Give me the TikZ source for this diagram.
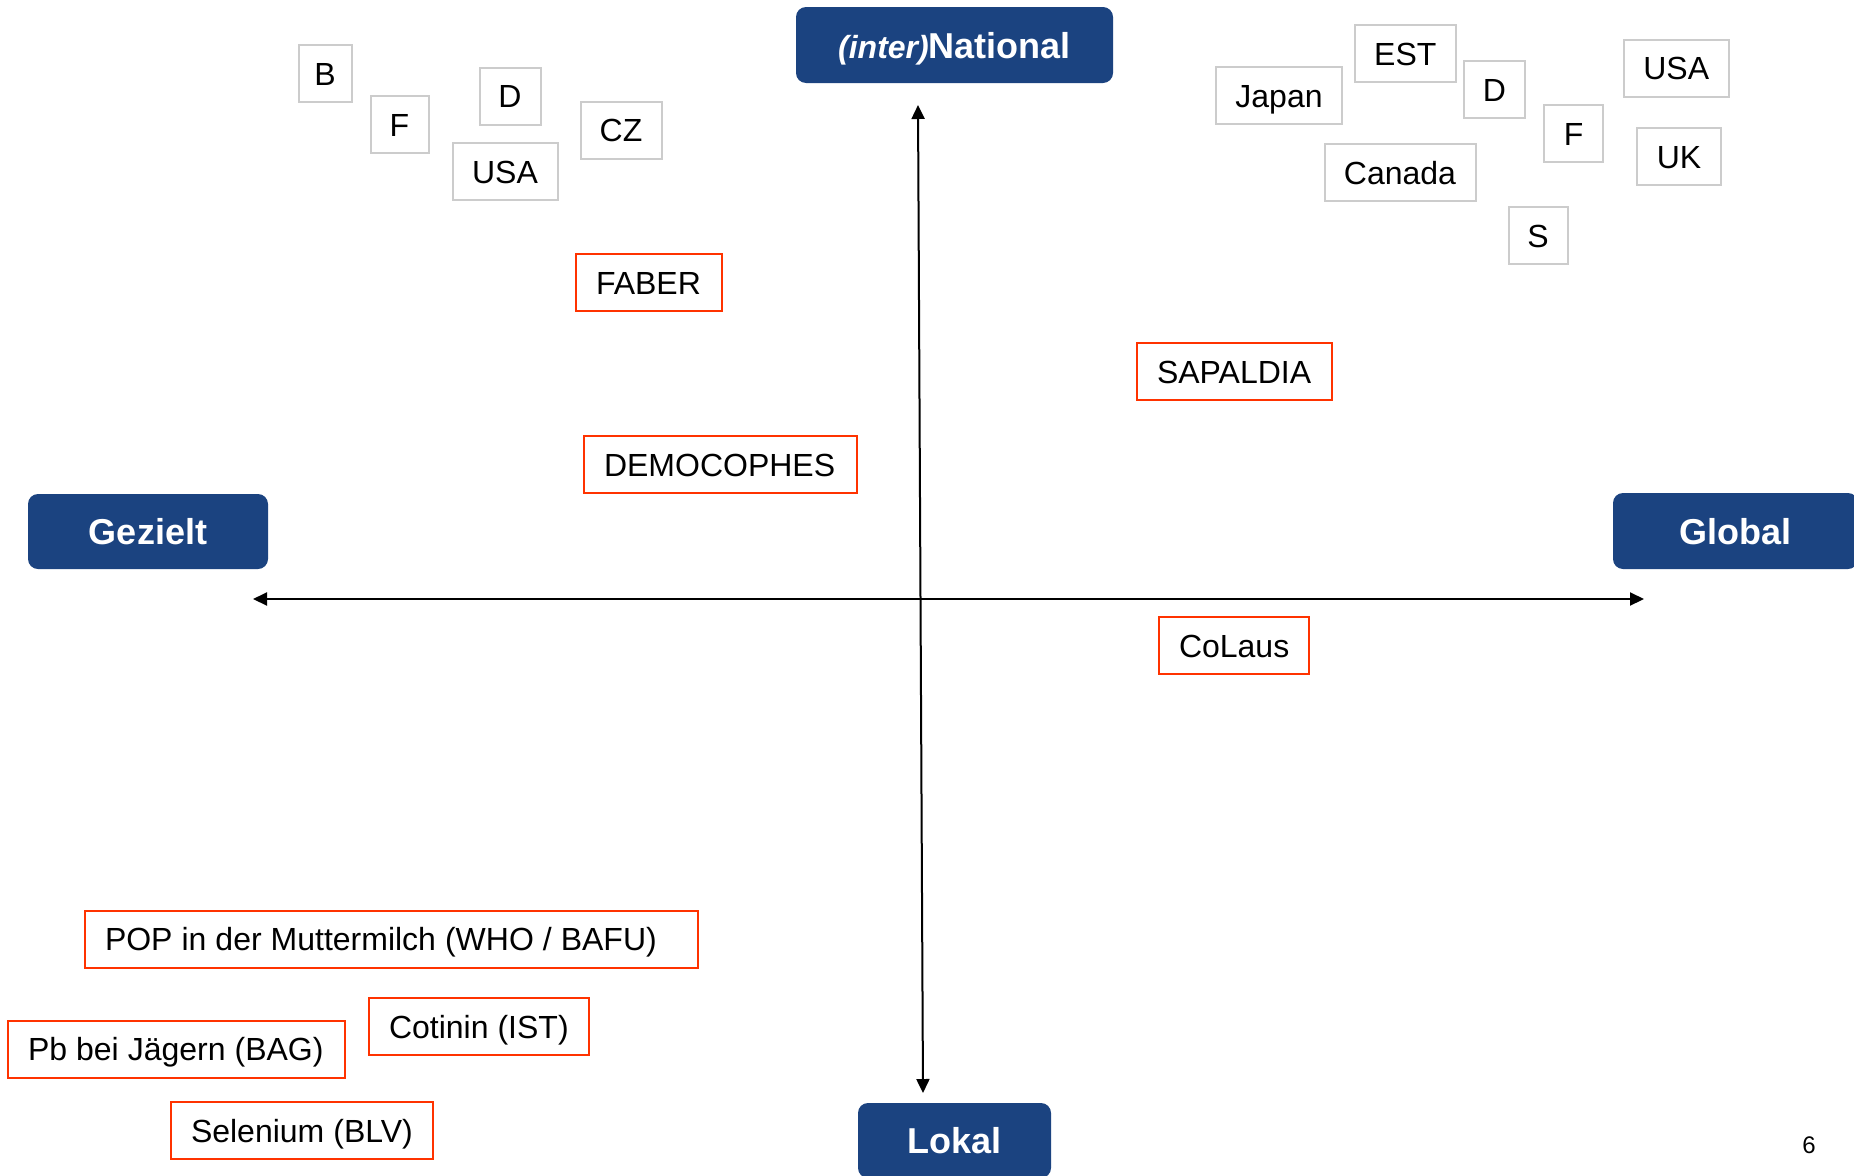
\documentclass[tikz,border=0pt]{standalone}
\usepackage{fontspec}
\setmainfont{Liberation Sans}
\usetikzlibrary{arrows.meta}
\definecolor{navy}{RGB}{27,67,128}
\definecolor{boxred}{RGB}{255,51,0}
\definecolor{boxgray}{RGB}{204,204,204}
\begin{document}
\begin{tikzpicture}[x=1pt,y=-1pt,
  txt/.style={font=\fontsize{32}{38}\selectfont, text height=23pt, text depth=0pt, execute at begin node={\spaceskip=9pt\relax}},
  graybox/.style={txt, draw=boxgray, line width=2pt, inner sep=0pt, outer sep=0pt, minimum height=57pt},
  redbox/.style={txt, draw=boxred, line width=2pt, inner xsep=20pt, inner ysep=0pt, outer sep=0pt, minimum height=57pt, align=left, anchor=west},
  bluebox/.style={fill=navy, rounded corners=10pt, text=white, font=\fontsize{36}{43}\selectfont\bfseries, text height=26pt, text depth=0pt, inner sep=0pt, minimum height=76pt},
  axis/.style={line width=2pt, {Triangle[width=13pt,length=14pt]}-{Triangle[width=13pt,length=14pt]}}
]
\clip (0,0) rectangle (1854,1175);
\fill[white] (0,0) rectangle (1854,1175);

% blue labels
\node[bluebox, minimum width=317pt] (nat) at (954.5,45) {{\fontsize{32}{38}\selectfont\itshape (inter)}National};
\node[bluebox, minimum width=240pt, minimum height=75pt] (gez) at (148,531.5) {Gezielt};
\node[bluebox, minimum width=245pt] (glob) at (1735.5,531) {Global};
\node[bluebox, minimum width=193pt, minimum height=75pt] (lok) at (954.5,1140.5) {Lokal};

% axes
\coordinate (axL) at (253,599);
\coordinate (axR) at (1644,599);
\coordinate (axT) at (918,105);
\coordinate (axB) at (923,1093);
\draw[axis] (axL) -- (axR);
\draw[axis] (axT) -- (axB);

% gray boxes left
\node[graybox, minimum width=53pt] (gB) at (325,73.5) {B};
\node[graybox, minimum width=58pt] (gF) at (399.5,124.5) {F};
\node[graybox, minimum width=61pt] (gD) at (510,96) {D};
\node[graybox, minimum width=105pt] (gUSA) at (505,171.5) {USA};
\node[graybox, minimum width=81pt] (gCZ) at (621,130) {CZ};

% gray boxes right
\node[graybox, minimum width=126pt] (gJapan) at (1279,95.5) {Japan};
\node[graybox, minimum width=101pt] (gEST) at (1405.3,53.5) {EST};
\node[graybox, minimum width=61pt] (gD2) at (1494.5,89.5) {D};
\node[graybox, minimum width=105pt] (gUSA2) at (1676.2,68) {USA};
\node[graybox, minimum width=59pt] (gF2) at (1573.7,133.5) {F};
\node[graybox, minimum width=84pt] (gUK) at (1679,156.5) {UK};
\node[graybox, minimum width=151pt] (gCanada) at (1400,172.5) {Canada};
\node[graybox, minimum width=59pt] (gS) at (1538,235.5) {S};

% red boxes
\node[redbox, text width=106pt] (faber) at (576,282.5) {\mbox{FABER}};
\node[redbox, text width=233pt] (democ) at (584,464.5) {\mbox{DEMOCOPHES}};
\node[redbox, text width=155pt] (sapal) at (1137,371.5) {\mbox{SAPALDIA}};
\node[redbox, text width=110pt] (colaus) at (1159,645.5) {\mbox{CoLaus}};
\node[redbox, text width=573pt] (pop) at (85,939) {\mbox{POP in der Muttermilch (WHO / BAFU)}};
\node[redbox, text width=297pt] (pb) at (8,1049) {\mbox{Pb bei Jägern (BAG)}};
\node[redbox, text width=180pt] (cot) at (369,1026.5) {\mbox{Cotinin (IST)}};
\node[redbox, text width=222pt] (sel) at (171,1130.5) {\mbox{Selenium (BLV)}};

% page number
\node[font=\fontsize{24}{28}\selectfont, inner sep=0pt] (pnum) at (1809,1145) {6};
\end{tikzpicture}
\end{document}
